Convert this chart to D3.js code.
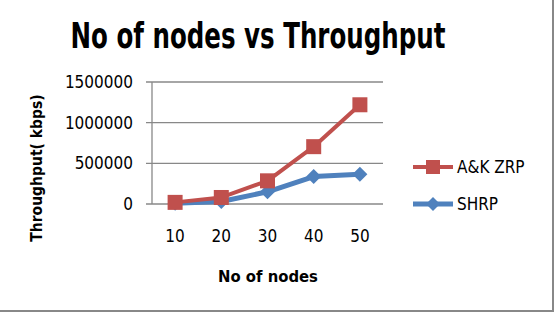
<!DOCTYPE html>
<html><head><meta charset="utf-8">
<script src="https://cdn.jsdelivr.net/npm/d3@7"></script>
<style>body{margin:0;background:#fff}svg{display:block}</style>
</head><body>
<svg id="c" width="558" height="312"></svg>
<script>
const categories = ["10","20","30","40","50"];
const akzrp = [20000, 80000, 285000, 705000, 1220000];
const shrp = [10000, 30000, 150000, 338000, 365000];
const yTicks = [0, 500000, 1000000, 1500000];
const seriesNames = ["A&K ZRP","SHRP"];

const svg = d3.select("#c");
// border
svg.append("rect").attr("x",-2).attr("y",-2).attr("width",555).attr("height",313)
  .attr("fill","#fff").attr("stroke","#888").attr("stroke-width",2);

const L=152, R=383, T=82, B=204;
const x = d3.scaleBand().domain(categories).range([L,R]);
const y = d3.scaleLinear().domain([0,1500000]).range([B,T]);
const font = "'DejaVu Sans Condensed','DejaVu Sans',sans-serif";

// gridlines
svg.append("g").selectAll("line").data(yTicks).join("line")
  .attr("x1",L-6).attr("x2",R).attr("y1",d=>y(d)).attr("y2",d=>y(d))
  .attr("stroke","#888").attr("stroke-width",1.3);
svg.append("line").attr("x1",L).attr("x2",L).attr("y1",T).attr("y2",B)
  .attr("stroke","#888").attr("stroke-width",1.3);

// y tick labels
svg.append("g").selectAll("text").data(yTicks).join("text")
  .attr("x",L-19).attr("y",d=>y(d)+6).attr("text-anchor","end")
  .attr("font-family",font).attr("font-size",17).text(d=>d);
// x tick labels
svg.append("g").selectAll("text").data(categories).join("text")
  .attr("x",d=>x(d)+x.bandwidth()/2).attr("y",242).attr("text-anchor","middle")
  .attr("font-family",font).attr("font-size",17).text(d=>d);

// titles
svg.append("text").attr("x",258).attr("y",48).attr("text-anchor","middle")
  .attr("font-family",font).attr("font-weight","bold").attr("font-size",35)
  .attr("textLength",375).attr("lengthAdjust","spacingAndGlyphs")
  .text("No of nodes vs Throughput");
svg.append("text").attr("x",268).attr("y",282).attr("text-anchor","middle")
  .attr("font-family",font).attr("font-weight","bold").attr("font-size",16.5)
  .text("No of nodes");
svg.append("text").attr("transform","translate(42,168) rotate(-90)").attr("text-anchor","middle")
  .attr("font-family",font).attr("font-weight","bold").attr("font-size",15.5)
  .text("Throughput( kbps)");

const cx = d=>x(d)+x.bandwidth()/2;
const line = d3.line().x((d,i)=>cx(categories[i])).y(d=>y(d));

// SHRP (blue)
svg.append("path").datum(shrp).attr("d",line).attr("fill","none")
  .attr("stroke","#4F81BD").attr("stroke-width",5).attr("stroke-linejoin","round");
const diamond = s=>`M0,${-s}L${s},0L0,${s}L${-s},0Z`;
svg.append("g").selectAll("path").data(shrp).join("path")
  .attr("transform",(d,i)=>`translate(${cx(categories[i])},${y(d)})`)
  .attr("d",diamond(7.5)).attr("fill","#4F81BD");

// A&K ZRP (red)
svg.append("path").datum(akzrp).attr("d",line).attr("fill","none")
  .attr("stroke","#C0504D").attr("stroke-width",4).attr("stroke-linejoin","round");
svg.append("g").selectAll("rect").data(akzrp).join("rect")
  .attr("x",(d,i)=>cx(categories[i])-7.5).attr("y",d=>y(d)-7.5)
  .attr("width",15).attr("height",15).attr("fill","#C0504D");

// legend
const lg = svg.append("g");
[{n:seriesNames[0],c:"#C0504D",y:167,m:"sq"},{n:seriesNames[1],c:"#4F81BD",y:204,m:"di"}].forEach(s=>{
  lg.append("line").attr("x1",413).attr("x2",453).attr("y1",s.y).attr("y2",s.y)
    .attr("stroke",s.c).attr("stroke-width",s.m==="sq"?4:5);
  if(s.m==="sq") lg.append("rect").attr("x",426).attr("y",s.y-7).attr("width",14).attr("height",14).attr("fill",s.c);
  else lg.append("path").attr("transform",`translate(433,${s.y})`).attr("d",diamond(7)).attr("fill",s.c);
  lg.append("text").attr("x",457).attr("y",s.y+6).attr("font-family",font).attr("font-size",17).text(s.n);
});
</script>
</body></html>
